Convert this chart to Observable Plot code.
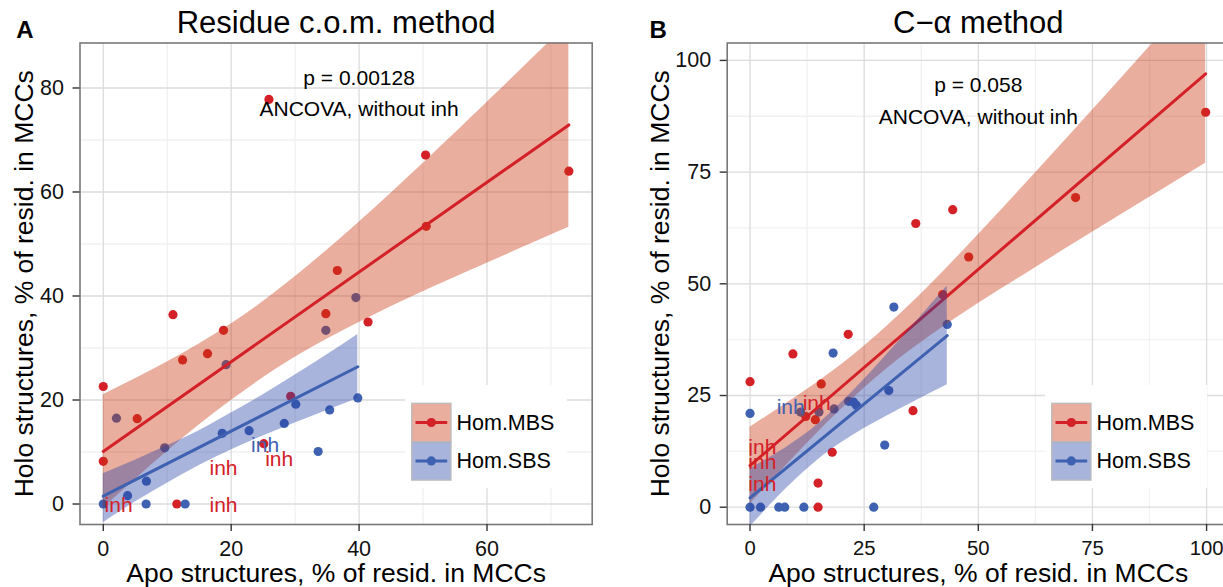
<!DOCTYPE html>
<html><head><meta charset="utf-8">
<script src="https://cdn.jsdelivr.net/npm/d3@7"></script>
<script src="https://cdn.jsdelivr.net/npm/@observablehq/plot@0.6"></script>
<style>
html,body{margin:0;padding:0;background:#fff;overflow:hidden;width:1223px;height:587px;}
#wrap{position:relative;width:1223px;height:587px;overflow:hidden;}
</style></head>
<body><div id="wrap"></div>
<script>
const FONT = "'Liberation Sans', Arial, Helvetica, sans-serif";
const RED = "#D42027", BLUE = "#3E62B1";
const RED_BAND = "#C8340C", BLUE_BAND = "#2944A8", BAND_OPACITY = 0.4;
const groups = ["Hom.MBS", "Hom.SBS"];

// ---------- Panel A: Residue c.o.m. method ----------
const aTitle = "Residue c.o.m. method";
const aMbsX = [25.9, 50.4, 72.8, 50.5, 36.6, 0, 0, 10.9, 5.3, 12.4, 16.3, 18.8, 34.8, 41.4, 29.3, 25.1, 11.5];
const aMbsY = [77.8, 67.1, 64.0, 53.4, 44.9, 22.6, 8.2, 36.4, 16.4, 27.7, 28.9, 33.4, 36.6, 35.0, 20.7, 11.6, 0];
const aSbsX = [39.5, 34.8, 2.06, 19.2, 9.6, 39.8, 35.4, 30.1, 28.3, 22.8, 18.6, 33.6, 6.75, 3.8, 6.7, 0, 12.8];
const aSbsY = [39.7, 33.4, 16.5, 26.8, 10.8, 20.4, 18.1, 19.2, 15.5, 14.1, 13.6, 10.1, 4.4, 1.6, 0, 0, 0];
const aMbsLineX = [0, 72.8], aMbsLineY = [10.1, 72.9];
const aSbsLineX = [0, 39.8], aSbsLineY = [1.5, 26.4];
const aMbsBandX  = [0, 10, 20, 30, 40, 50, 60, 72.8];
const aMbsBandLo = [-0.8, 10.1, 19.9, 28.2, 34.9, 40.8, 46.3, 53.2];
const aMbsBandHi = [21.0, 27.3, 34.6, 43.7, 54.2, 65.5, 77.2, 92.5];
const aSbsBandX  = [0, 5, 10, 15, 20, 25, 30, 35, 39.8];
const aSbsBandLo = [-3.6, 0.4, 4.0, 7.4, 10.4, 13.1, 15.6, 18.0, 20.3];
const aSbsBandHi = [5.8, 8.4, 11.2, 14.1, 17.5, 21.0, 24.8, 28.7, 32.6];
const aInhX = [25.3, 2.4, 18.8, 18.8, 27.5];
const aInhY = [11.25, -0.3, -0.3, 6.8, 8.6];
const aInhG = ["Hom.SBS", "Hom.MBS", "Hom.MBS", "Hom.MBS", "Hom.MBS"];
const aNoteX = [40, 40], aNoteY = [81.8, 76.0], aNoteText = ["p = 0.00128", "ANCOVA, without inh"];
const aXTicks = [0, 20, 40, 60], aXMinor = [10, 30, 50, 70];
const aYTicks = [0, 20, 40, 60, 80], aYMinor = [10, 30, 50, 70];

// ---------- Panel B: C-alpha method ----------
const bTitle = "C\u2212\u03b1 method";
const bMbsX = [99.8, 71.3, 44.4, 36.3, 47.9, 42.2, 0, 9.4, 21.5, 15.6, 35.7, 12.2, 14.3, 18.0, 14.9, 14.9];
const bMbsY = [88.4, 69.3, 66.6, 63.5, 56.0, 47.6, 28.1, 34.3, 38.7, 27.6, 21.6, 20.3, 19.6, 12.3, 5.4, 0];
const bSbsX = [31.5, 43.2, 18.2, 30.4, 0, 29.5, 11.1, 15.1, 18.4, 21.6, 22.7, 23.3, 0, 2.3, 6.3, 7.6, 11.8, 27.1];
const bSbsY = [44.8, 40.9, 34.5, 26.1, 21.0, 13.9, 21.3, 21.3, 22.0, 23.7, 23.5, 22.8, 0, 0, 0, 0, 0, 0];
const bMbsLineX = [0, 99.8], bMbsLineY = [9.3, 97.0];
const bSbsLineX = [0, 43.2], bSbsLineY = [2.1, 38.4];
const bMbsBandX  = [0, 10, 20, 30, 40, 50, 60, 70, 80, 90, 99.8];
const bMbsBandLo = [0.7, 11.6, 21.9, 31.0, 38.7, 45.6, 52.0, 58.4, 64.7, 70.9, 77.0];
const bMbsBandHi = [17.9, 24.6, 31.9, 40.5, 50.3, 61.0, 72.0, 83.2, 94.5, 105.9, 117.0];
const bSbsBandX  = [0, 5, 10, 15, 20, 25, 30, 35, 43.2];
const bSbsBandLo = [-4.4, 1.1, 6.2, 10.7, 14.4, 17.6, 20.4, 23.1, 27.4];
const bSbsBandHi = [8.6, 11.5, 14.8, 18.7, 23.4, 28.6, 34.2, 39.9, 49.5];
const bInhX = [8.9, 2.7, 2.7, 2.7, 14.6];
const bInhY = [22.4, 13.4, 10.1, 5.2, 23.3];
const bInhG = ["Hom.SBS", "Hom.MBS", "Hom.MBS", "Hom.MBS", "Hom.MBS"];
const bNoteX = [50, 50], bNoteY = [94.4, 87.2], bNoteText = ["p = 0.058", "ANCOVA, without inh"];
const bXTicks = [0, 25, 50, 75, 100], bXMinor = [12.5, 37.5, 62.5, 87.5];
const bYTicks = [0, 25, 50, 75, 100], bYMinor = [12.5, 37.5, 62.5, 87.5];

const xLabel = "Apo structures, % of resid. in MCCs";
const yLabel = "Holo structures, % of resid. in MCCs";

const zip2 = (xs, ys) => xs.map((x, i) => ({x, y: ys[i]}));
const band = (xs, lo, hi) => xs.map((x, i) => ({x, lo: lo[i], hi: hi[i]}));

function panel(p) {
  const mbs = zip2(p.mbsX, p.mbsY), sbs = zip2(p.sbsX, p.sbsY);
  const inh = p.inhX.map((x, i) => ({x, y: p.inhY[i], g: p.inhG[i]}));
  const notes = p.noteX.map((x, i) => ({x, y: p.noteY[i], t: p.noteText[i]}));
  return Plot.plot({
    width: p.width, height: 587,
    marginLeft: p.marginLeft, marginRight: p.marginRight, marginTop: 42.5, marginBottom: 63,
    x: {domain: p.xDomain}, y: {domain: p.yDomain},
    style: {fontFamily: FONT, fontSize: "21px", color: "#111", background: "transparent", overflow: "visible"},
    marks: [
      Plot.gridX(p.xMinor, {stroke: "#f1f1f1", strokeOpacity: 1, strokeWidth: 1.3}),
      Plot.gridY(p.yMinor, {stroke: "#f1f1f1", strokeOpacity: 1, strokeWidth: 1.3}),
      Plot.gridX(p.xTicks, {stroke: "#dcdcdc", strokeOpacity: 1, strokeWidth: 1.3}),
      Plot.gridY(p.yTicks, {stroke: "#dcdcdc", strokeOpacity: 1, strokeWidth: 1.3}),
      Plot.dot(mbs, {x: "x", y: "y", r: 4.6, fill: RED}),
      Plot.dot(sbs, {x: "x", y: "y", r: 4.6, fill: BLUE}),
      Plot.areaY(band(p.mbsBandX, p.mbsBandLo, p.mbsBandHi), {x: "x", y1: "lo", y2: "hi", fill: RED_BAND, fillOpacity: BAND_OPACITY, curve: "natural", clip: true}),
      Plot.line(zip2(p.mbsLineX, p.mbsLineY), {x: "x", y: "y", stroke: RED, strokeWidth: 3, clip: true}),
      Plot.areaY(band(p.sbsBandX, p.sbsBandLo, p.sbsBandHi), {x: "x", y1: "lo", y2: "hi", fill: BLUE_BAND, fillOpacity: BAND_OPACITY, curve: "natural", clip: true}),
      Plot.line(zip2(p.sbsLineX, p.sbsLineY), {x: "x", y: "y", stroke: BLUE, strokeWidth: 3, clip: true}),
      Plot.text(inh, {x: "x", y: "y", text: () => "inh", fill: d => d.g === groups[0] ? RED : BLUE, fontSize: 21}),
      Plot.text(notes, {x: "x", y: "y", text: "t", fill: "#000", fontSize: 21}),
      Plot.frame({stroke: "#787878", strokeWidth: 1.6}),
      Plot.axisX(p.xTicks, {tickSize: 7, tickPadding: 9, label: null, fontSize: p.xTickFont, stroke: "#333", strokeWidth: 1.4, fill: "#111"}),
      Plot.axisY(p.yTicks, {tickSize: 7, tickPadding: 9, label: null, fontSize: 21.5, stroke: "#333", strokeWidth: 1.4, fill: "#111"}),
      Plot.text([p.title], {frameAnchor: "top", dy: -20, text: d => d, fontSize: 31, fill: "#000", textAnchor: "middle", lineAnchor: "middle"}),
      Plot.text([xLabel], {frameAnchor: "bottom", dy: 49.5, text: d => d, fontSize: 26.5, fill: "#000", textAnchor: "middle", lineAnchor: "middle"}),
      Plot.text([yLabel], {frameAnchor: "left", dx: p.yLabelDx, rotate: -90, text: d => d, fontSize: 26.5, fill: "#000", textAnchor: "middle", lineAnchor: "middle"}),
      Plot.text([p.letter], {frameAnchor: "top-left", dx: p.letterDx, dy: -13, text: d => d, fontSize: 24, fontWeight: "bold", fill: "#000", textAnchor: "middle", lineAnchor: "middle"})
    ]
  });
}

function legend(left) {
  const div = document.createElement("div");
  div.style.cssText = `position:absolute;left:${left}px;top:385px;width:162px;height:103px;background:#fff;`;
  const cols = [[RED, RED_BAND], [BLUE, BLUE_BAND]];
  let s = `<svg width="162" height="103" style="display:block;font-family:${FONT.replace(/'/g, "&quot;")}">`;
  groups.forEach((label, i) => {
    const [c, f] = cols[i];
    const y = 18.3 + i * 38.4, cy = y + 19.2;
    s += `<rect x="6.7" y="${y}" width="39.3" height="38.4" fill="${f}" fill-opacity="${BAND_OPACITY}" stroke="#bcbcbc" stroke-width="1.3"/>`;
    s += `<line x1="10.5" x2="42.2" y1="${cy}" y2="${cy}" stroke="${c}" stroke-width="3"/>`;
    s += `<circle cx="26.35" cy="${cy}" r="4.6" fill="${c}"/>`;
    s += `<text x="51.5" y="${cy}" dy="0.35em" font-size="21.5" fill="#000">${label}</text>`;
  });
  s += `</svg>`;
  div.innerHTML = s;
  return div;
}

const wrap = document.getElementById("wrap");
const A = panel({
  title: aTitle, letter: "A", letterDx: -55, yLabelDx: -55.5, xTickFont: 21.5,
  width: 612, marginLeft: 79.5, marginRight: 20.3,
  xDomain: [-3.64, 76.45], yDomain: [-3.94, 88.65],
  mbsX: aMbsX, mbsY: aMbsY, sbsX: aSbsX, sbsY: aSbsY,
  mbsLineX: aMbsLineX, mbsLineY: aMbsLineY, sbsLineX: aSbsLineX, sbsLineY: aSbsLineY,
  mbsBandX: aMbsBandX, mbsBandLo: aMbsBandLo, mbsBandHi: aMbsBandHi,
  sbsBandX: aSbsBandX, sbsBandLo: aSbsBandLo, sbsBandHi: aSbsBandHi,
  inhX: aInhX, inhY: aInhY, inhG: aInhG,
  noteX: aNoteX, noteY: aNoteY, noteText: aNoteText,
  xTicks: aXTicks, xMinor: aXMinor, yTicks: aYTicks, yMinor: aYMinor
});
A.style.position = "absolute"; A.style.left = "0px"; A.style.top = "0px";
wrap.appendChild(A);

const B = panel({
  title: bTitle, letter: "B", letterDx: -69, yLabelDx: -67, xTickFont: 20.3,
  width: 627, marginLeft: 114.7, marginRight: 10.1,
  xDomain: [-5, 105], yDomain: [-3.87, 103.9],
  mbsX: bMbsX, mbsY: bMbsY, sbsX: bSbsX, sbsY: bSbsY,
  mbsLineX: bMbsLineX, mbsLineY: bMbsLineY, sbsLineX: bSbsLineX, sbsLineY: bSbsLineY,
  mbsBandX: bMbsBandX, mbsBandLo: bMbsBandLo, mbsBandHi: bMbsBandHi,
  sbsBandX: bSbsBandX, sbsBandLo: bSbsBandLo, sbsBandHi: bSbsBandHi,
  inhX: bInhX, inhY: bInhY, inhG: bInhG,
  noteX: bNoteX, noteY: bNoteY, noteText: bNoteText,
  xTicks: bXTicks, xMinor: bXMinor, yTicks: bYTicks, yMinor: bYMinor
});
B.style.position = "absolute"; B.style.left = "612px"; B.style.top = "0px"; B.style.maxWidth = "none";
wrap.appendChild(B);

wrap.appendChild(legend(405));
wrap.appendChild(legend(1045));
</script>
</body></html>
